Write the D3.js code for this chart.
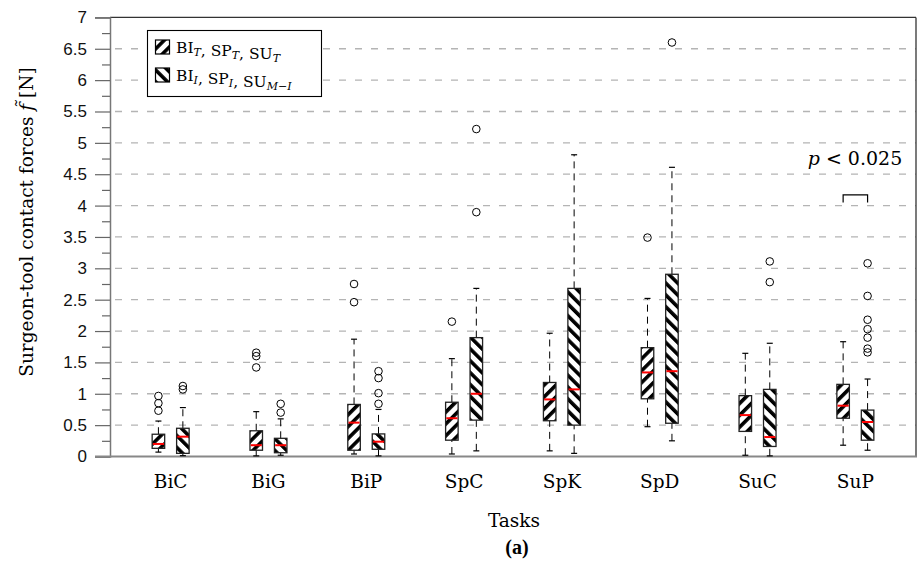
<!DOCTYPE html>
<html>
<head>
<meta charset="utf-8">
<script src="https://cdn.jsdelivr.net/npm/d3@7"></script>
<style>
body { margin: 0; background: #fff; }
svg { display: block; }
</style>
</head>
<body>
<div id="chart"></div>
<script>
var categories = ["BiC", "BiG", "BiP", "SpC", "SpK", "SpD", "SuC", "SuP"];

// five-number summaries: [low whisker, q1, median, q3, high whisker]
var statsT = [
	[0.07, 0.13, 0.20, 0.355, 0.565],
	[0.01, 0.10, 0.18, 0.41, 0.715],
	[0.04, 0.10, 0.54, 0.83, 1.87],
	[0.04, 0.26, 0.61, 0.865, 1.56],
	[0.09, 0.57, 0.91, 1.18, 1.965],
	[0.475, 0.92, 1.34, 1.735, 2.52],
	[0.02, 0.40, 0.66, 0.97, 1.645],
	[0.18, 0.61, 0.81, 1.15, 1.83]
];
var outliersT = [
	[0.73, 0.85, 0.965],
	[1.42, 1.60, 1.655],
	[2.46, 2.75],
	[2.15],
	[],
	[3.49],
	[],
	[]
];
var statsI = [
	[0.013, 0.05, 0.316, 0.45, 0.78],
	[0.02, 0.06, 0.18, 0.29, 0.60],
	[0.01, 0.115, 0.236, 0.36, 0.75],
	[0.09, 0.58, 1.0, 1.895, 2.68],
	[0.05, 0.50, 1.07, 2.68, 4.81],
	[0.25, 0.53, 1.36, 2.905, 4.61],
	[0.01, 0.16, 0.31, 1.07, 1.805],
	[0.10, 0.26, 0.55, 0.74, 1.235]
];
var outliersI = [
	[1.07, 1.124],
	[0.70, 0.84],
	[0.84, 1.01, 1.25, 1.36],
	[3.895, 5.22],
	[],
	[6.6],
	[2.78, 3.11],
	[1.66, 1.72, 1.895, 2.03, 2.18, 2.56, 3.08]
];
var yTicks = [0, 0.5, 1, 1.5, 2, 2.5, 3, 3.5, 4, 4.5, 5, 5.5, 6, 6.5, 7];
var sigTask = "SuP";
var sigLevel = 4.17;
var sigText = "0.025";

var W = 917, H = 564;
var mLeft = 110, mRight = 916, mTop = 17.4, mBottom = 456.5;

var svg = d3.select('#chart').append('svg')
	.attr('width', W)
	.attr('height', H);

var serif = "'DejaVu Serif', 'Liberation Serif', serif";
var sans = "'Liberation Sans', Arial, sans-serif";

var x = d3.scaleLinear().domain([0.38, 8.62]).range([mLeft, mRight]);
var y = d3.scaleLinear().domain([0, 7]).range([mBottom, mTop]);

// hatch patterns
var defs = svg.append('defs');
function hatch(id, angle) {
	var p = defs.append('pattern')
		.attr('id', id)
		.attr('patternUnits', 'userSpaceOnUse')
		.attr('width', 8.4)
		.attr('height', 8.4)
		.attr('patternTransform', 'rotate(' + angle + ')');
	p.append('rect').attr('width', 8.4).attr('height', 8.4).attr('fill', '#fff');
	p.append('rect').attr('x', 0).attr('width', 3.6).attr('height', 8.4).attr('fill', '#000');
}
hatch('hatchT', 45);
hatch('hatchI', -45);

// grid
svg.append('g').selectAll('line')
	.data(yTicks.filter(function (d) { return d > 0 && d < 7; }))
	.enter().append('line')
	.attr('x1', mLeft).attr('x2', mRight)
	.attr('y1', function (d) { return y(d); })
	.attr('y2', function (d) { return y(d); })
	.attr('stroke', '#b4b4b4')
	.attr('stroke-width', 1.3)
	.attr('stroke-dasharray', '7,9')
	.attr('stroke-dashoffset', -5);

// frame top/right
svg.append('line').attr('x1', mLeft).attr('x2', mRight).attr('y1', mTop).attr('y2', mTop)
	.attr('stroke', '#333').attr('stroke-width', 1.3);
svg.append('line').attr('x1', mRight).attr('x2', mRight).attr('y1', mTop).attr('y2', mBottom)
	.attr('stroke', '#333').attr('stroke-width', 1.3);

// y axis
var yAxis = d3.axisLeft(y).tickValues(yTicks).tickSize(15).tickPadding(8)
	.tickFormat(d3.format(''));
var yg = svg.append('g').attr('transform', 'translate(' + mLeft + ',0)').call(yAxis);
var minor = [];
yTicks.forEach(function (d) { if (d < 7) minor.push(d + 0.25); });
svg.append('g').attr('transform', 'translate(' + mLeft + ',0)')
	.call(d3.axisLeft(y).tickValues(minor).tickSize(8).tickFormat(''))
	.call(function (g) { g.select('.domain').remove(); });
svg.selectAll('.tick line').attr('stroke', '#666').attr('stroke-width', 1.2);
yg.select('.domain').attr('stroke', '#777').attr('stroke-width', 1.5);
yg.selectAll('text').style('font-family', sans).style('font-size', '17px').attr('fill', '#111');

// x axis line
svg.append('line').attr('x1', mLeft - 15).attr('x2', mRight + 1).attr('y1', mBottom).attr('y2', mBottom)
	.attr('stroke', '#888').attr('stroke-width', 2.2);

// category labels
svg.append('g').selectAll('text')
	.data(categories)
	.enter().append('text')
	.attr('x', function (d, i) { return x(i + 1); })
	.attr('y', 488)
	.attr('text-anchor', 'middle')
	.style('font-family', serif)
	.style('font-size', '18.5px')
	.text(function (d) { return d; });

var off = 0.125, bw = 0.064;

function drawBoxes(stats, outs, shift, pat) {
	var g = svg.append('g');
	var grp = g.selectAll('g').data(stats).enter().append('g');
	function cx(i) { return x(i + 1 + shift); }
	// whiskers
	grp.append('line')
		.attr('x1', function (d, i) { return cx(i); })
		.attr('x2', function (d, i) { return cx(i); })
		.attr('y1', function (d) { return y(d[0]); })
		.attr('y2', function (d) { return y(d[1]); })
		.attr('stroke', '#000').attr('stroke-width', 1).attr('stroke-dasharray', '7,5');
	grp.append('line')
		.attr('x1', function (d, i) { return cx(i); })
		.attr('x2', function (d, i) { return cx(i); })
		.attr('y1', function (d) { return y(d[3]); })
		.attr('y2', function (d) { return y(d[4]); })
		.attr('stroke', '#000').attr('stroke-width', 1).attr('stroke-dasharray', '7,5');
	[0, 4].forEach(function (k) {
		grp.append('line')
			.attr('x1', function (d, i) { return cx(i) - 3; })
			.attr('x2', function (d, i) { return cx(i) + 3; })
			.attr('y1', function (d) { return y(d[k]); })
			.attr('y2', function (d) { return y(d[k]); })
			.attr('stroke', '#000').attr('stroke-width', 1.2);
	});
	grp.append('rect')
		.attr('x', function (d, i) { return x(i + 1 + shift - bw); })
		.attr('width', x(1 + bw) - x(1 - bw))
		.attr('y', function (d) { return y(d[3]); })
		.attr('height', function (d) { return y(d[1]) - y(d[3]); })
		.attr('fill', 'url(#' + pat + ')')
		.attr('stroke', '#222').attr('stroke-width', 1.3);
	grp.append('line')
		.attr('x1', function (d, i) { return x(i + 1 + shift - bw) + 0.7; })
		.attr('x2', function (d, i) { return x(i + 1 + shift + bw) - 0.7; })
		.attr('y1', function (d) { return y(d[2]); })
		.attr('y2', function (d) { return y(d[2]); })
		.attr('stroke', '#f00').attr('stroke-width', 2);
	// outliers
	var pts = [];
	outs.forEach(function (o, i) { o.forEach(function (v) { pts.push([i, v]); }); });
	g.selectAll('circle').data(pts).enter().append('circle')
		.attr('cx', function (d) { return cx(d[0]); })
		.attr('cy', function (d) { return y(d[1]); })
		.attr('r', 3.8)
		.attr('fill', 'none')
		.attr('stroke', '#000')
		.attr('stroke-width', 1);
}
drawBoxes(statsT, outliersT, -off, 'hatchT');
drawBoxes(statsI, outliersI, off, 'hatchI');

// significance bracket
var si = categories.indexOf(sigTask) + 1;
svg.append('path')
	.attr('d', 'M' + x(si - off) + ',' + y(sigLevel - 0.12) + 'V' + y(sigLevel) + 'H' + x(si + off) + 'V' + y(sigLevel - 0.12))
	.attr('fill', 'none').attr('stroke', '#000').attr('stroke-width', 1.2);
var pt = svg.append('text')
	.attr('x', 855)
	.attr('y', 165)
	.attr('text-anchor', 'middle')
	.style('font-family', serif)
	.style('font-size', '19px');
pt.append('tspan').style('font-style', 'italic').text('p');
pt.append('tspan').text(' < ' + sigText);

// legend
var lg = svg.append('g');
lg.append('rect').attr('x', 147.5).attr('y', 30.5).attr('width', 174).attr('height', 66)
	.attr('fill', '#fff').attr('stroke', '#000').attr('stroke-width', 1.1);
var legendRows = [
	{ pat: 'hatchT', parts: [['BI', ''], ['T', 'sub'], [', SP', ''], ['T', 'sub'], [', SU', ''], ['T', 'sub']] },
	{ pat: 'hatchI', parts: [['BI', ''], ['I', 'sub'], [', SP', ''], ['I', 'sub'], [', SU', ''], ['M\u2212I', 'sub']] }
];
legendRows.forEach(function (r, i) {
	var cy = 47 + i * 28;
	lg.append('rect').attr('x', 155.5).attr('y', cy - 7).attr('width', 14).attr('height', 14)
		.attr('fill', 'url(#' + r.pat + ')').attr('stroke', '#000').attr('stroke-width', 1.2);
	var t = lg.append('text').attr('x', 176).attr('y', cy + 6)
		.style('font-family', serif).style('font-size', '15.5px');
	r.parts.forEach(function (p) {
		if (p[1] === 'sub') {
			t.append('tspan').attr('dy', 3).style('font-size', '11px').style('font-style', 'italic').text(p[0]);
			t.append('tspan').attr('dy', -3).text('');
		} else {
			t.append('tspan').text(p[0]);
		}
	});
});

// axis titles
var yt = svg.append('text')
	.attr('transform', 'translate(33,222) rotate(-90)')
	.attr('text-anchor', 'middle')
	.style('font-family', serif)
	.style('font-size', '18.5px');
yt.append('tspan').text('Surgeon-tool contact forces ');
yt.append('tspan').style('font-style', 'italic').text('f\u0303');
yt.append('tspan').text(' [N]');

svg.append('text')
	.attr('x', 514).attr('y', 527)
	.attr('text-anchor', 'middle')
	.style('font-family', serif).style('font-size', '18.5px')
	.text('Tasks');
svg.append('text')
	.attr('x', 517).attr('y', 554)
	.attr('text-anchor', 'middle')
	.style('font-family', "'Liberation Serif', serif").style('font-size', '20px').style('font-weight', 'bold')
	.text('(a)');
</script>
</body>
</html>
